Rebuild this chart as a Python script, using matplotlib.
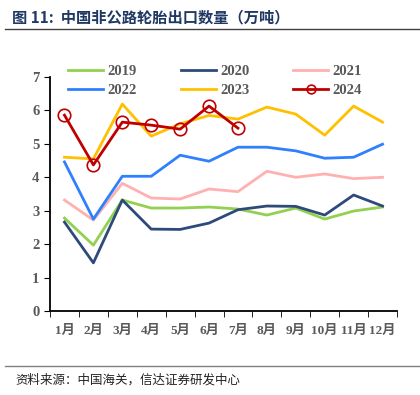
import numpy as np
import matplotlib.pyplot as plt
from matplotlib.lines import Line2D

plt.rcParams['font.family'] = ['Liberation Serif', 'Noto Sans CJK SC']

months = ['1月', '2月', '3月', '4月', '5月', '6月', '7月', '8月', '9月', '10月', '11月', '12月']
y2019 = [2.78, 1.97, 3.32, 3.08, 3.08, 3.11, 3.05, 2.87, 3.08, 2.75, 2.99, 3.11]
y2020 = [2.66, 1.44, 3.32, 2.45, 2.44, 2.63, 3.03, 3.14, 3.13, 2.87, 3.47, 3.14]
y2021 = [3.32, 2.72, 3.82, 3.38, 3.35, 3.65, 3.57, 4.18, 4.00, 4.10, 3.96, 4.00]
y2022 = [4.46, 2.75, 4.03, 4.03, 4.66, 4.48, 4.90, 4.90, 4.79, 4.57, 4.60, 4.99]
y2023 = [4.60, 4.55, 6.19, 5.23, 5.60, 5.85, 5.74, 6.10, 5.89, 5.26, 6.13, 5.65]
y2024 = [5.86, 4.37, 5.65, 5.56, 5.44, 6.13, 5.47]

fig = plt.figure(figsize=(4.2, 3.95), dpi=100)
ax = fig.add_axes([50/420, 84/395, 347/420, 234/395])

x = np.arange(12)
l19, = ax.plot(x, y2019, color='#92d050', lw=2, label='2019')
l20, = ax.plot(x, y2020, color='#2e4a7a', lw=2, label='2020')
l21, = ax.plot(x, y2021, color='#ffb0b0', lw=2, label='2021')
l22, = ax.plot(x, y2022, color='#2f80ff', lw=2, label='2022')
l23, = ax.plot(x, y2023, color='#ffc000', lw=2, label='2023')
l24, = ax.plot(np.arange(len(y2024)), y2024, color='#c00000', lw=2, marker='o', ms=9,
               mfc='none', mec='#c00000', mew=1.2, label='2024')

ax.set_xlim(-0.5, 11.5)
ax.set_ylim(0, 7)
ax.set_yticks(range(8))
ax.set_xticks(x)
ax.set_xticklabels(months)
ax.set_xticks(np.arange(-0.5, 12, 1), minor=True)
ax.tick_params(axis='x', which='major', length=0, pad=10)
ax.tick_params(axis='x', which='minor', length=4, direction='out')
ax.tick_params(axis='y', length=4, direction='out')
for lab in ax.get_xticklabels():
    lab.set_fontsize(9.5)
for lab in ax.get_yticklabels():
    lab.set_fontsize(10.5)
for lab in ax.get_xticklabels() + ax.get_yticklabels():
    lab.set_color('#595959')
    lab.set_fontweight('bold')
for s in ['top', 'right']:
    ax.spines[s].set_visible(False)
ax.spines['left'].set_linewidth(1.3)
ax.spines['bottom'].set_linewidth(1.3)

# legend filled row by row: 2019 2020 2021 / 2022 2023 2024
handles = [l19, l22, l20, l23, l21, l24]
leg = fig.legend(handles, [h.get_label() for h in handles], loc='upper left',
                 bbox_to_anchor=(55/420, 1 - 52/395), ncol=3,
                 frameon=False, prop={'weight': 'bold', 'size': 10.5},
                 handlelength=2.4, handletextpad=0.3, columnspacing=3.0,
                 labelspacing=0.35, markerscale=0.7)
for t in leg.get_texts():
    t.set_color('#595959')

fig.text(12/420, 1 - 17/395, '图 11:  中国非公路轮胎出口数量（万吨）', fontsize=11,
         fontweight='bold', color='#1f3864', va='center',
         family=['Noto Sans CJK SC', 'DejaVu Sans'])
fig.add_artist(Line2D([5/420, 1], [1 - 29/395] * 2, color='#404040', lw=1))
fig.add_artist(Line2D([5/420, 1], [1 - 366/395] * 2, color='#808080', lw=1))
fig.text(15/420, 1 - 380/395, '资料来源：中国海关，信达证券研发中心', fontsize=9,
         style='italic', color='#222222', va='center',
         family=['Noto Sans CJK SC', 'DejaVu Sans'])

fig.savefig('out.png', dpi=100)
